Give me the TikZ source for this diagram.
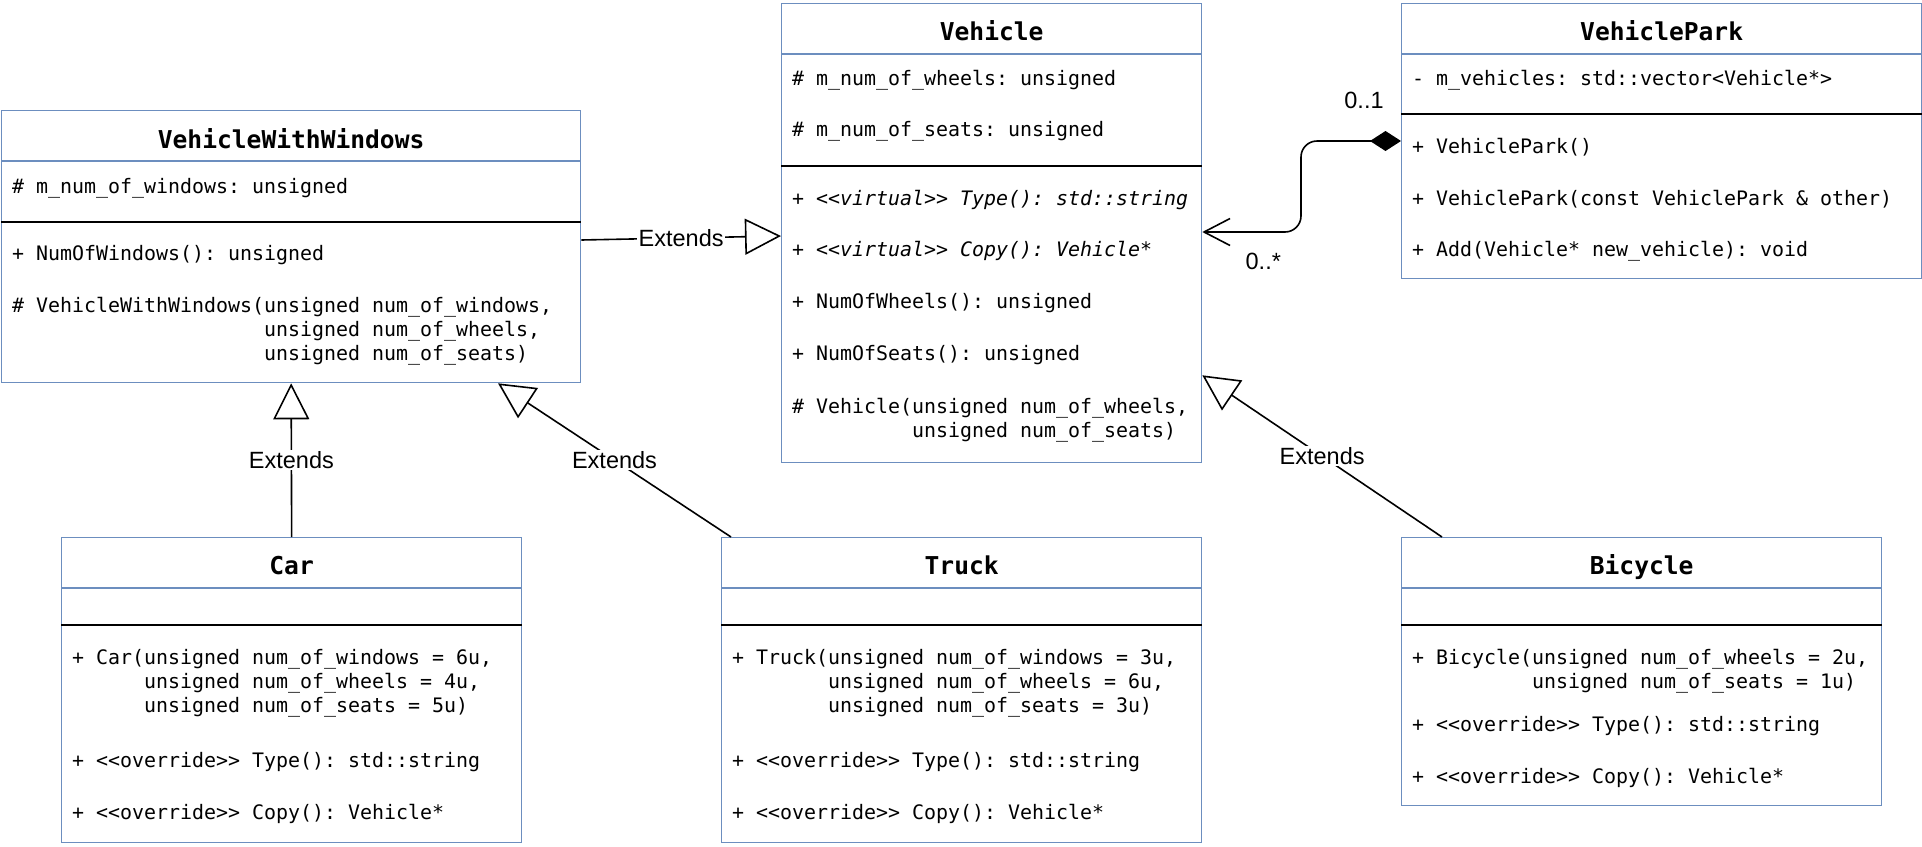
\documentclass[tikz,border=0pt]{standalone}
\usepackage{fontspec}
\setmainfont{Liberation Sans}
\setmonofont{DejaVu Sans Mono}
\usetikzlibrary{arrows.meta,calc}
\definecolor{umlblue}{HTML}{6C8EBF}
\frenchspacing
\newcommand\umlsections[3]{%
  \draw[hdr] ($(#1.north west)+(0,#2)$) -- ($(#1.north east)+(0,#2)$);
  \draw[sepline] ($(#1.north west)+(0,#3)$) -- ($(#1.north east)+(0,#3)$);}
\begin{document}
\begin{tikzpicture}[x=1pt,y=-1pt,
  cls/.style={draw=umlblue, line width=1.3pt, fill=white, anchor=north west, inner sep=0pt},
  hdr/.style={draw=umlblue, line width=1.3pt},
  sepline/.style={draw=black, line width=2pt},
  row/.style={anchor=base west, inner sep=0pt, font=\ttfamily\fontsize{19.93}{24}\selectfont},
  irow/.style={anchor=base west, inner sep=0pt, font=\ttfamily\itshape\fontsize{19.93}{24}\selectfont},
  ttl/.style={anchor=base, inner sep=0pt, font=\ttfamily\bfseries\fontsize{24.6}{29}\selectfont},
  ext/.style={draw=black, line width=1.6pt, -{Triangle[open, length=36pt, width=36pt]}},
  comp/.style={draw=black, line width=1.6pt, rounded corners=16pt,
    {Diamond[length=31pt,width=20pt]}-{Straight Barb[length=26pt,width=27pt]}},
  lbl/.style={fill=white, inner sep=1.5pt, font=\fontsize{23.5}{28}\selectfont},
  mult/.style={inner sep=0pt, font=\fontsize{23.5}{28}\selectfont},
]
\useasboundingbox[fill=white] (0,0) rectangle (1922,846);

% ---------- boxes ----------
\node[cls, minimum width=579pt, minimum height=272pt] (vww) at (1,110) {};
\node[cls, minimum width=420pt, minimum height=459pt] (veh) at (781,3) {};
\node[cls, minimum width=520pt, minimum height=275pt] (vp) at (1401,3) {};
\node[cls, minimum width=460pt, minimum height=305pt] (car) at (61,537) {};
\node[cls, minimum width=480pt, minimum height=305pt] (truck) at (721,537) {};
\node[cls, minimum width=480pt, minimum height=268pt] (bic) at (1401,537) {};

\umlsections{vww}{51}{112}
\umlsections{veh}{51}{163}
\umlsections{vp}{51}{111}
\umlsections{car}{51}{88}
\umlsections{truck}{51}{88}
\umlsections{bic}{51}{88}

% ---------- titles ----------
\node[ttl] (vwwT) at ($(vww.north)+(0,38)$) {VehicleWithWindows};
\node[ttl] (vehT) at ($(veh.north)+(0,37)$) {Vehicle};
\node[ttl] (vpT) at ($(vp.north)+(0,37)$) {VehiclePark};
\node[ttl] (carT) at ($(car.north)+(0,37)$) {Car};
\node[ttl] (truckT) at ($(truck.north)+(0,37)$) {Truck};
\node[ttl] (bicT) at ($(bic.north)+(0,37)$) {Bicycle};

% ---------- VehicleWithWindows ----------
\node[row] (vwwA) at (12,193.3) {\# m\_num\_of\_windows: unsigned};
\node[row] (vwwB) at (12,260.7) {+ NumOfWindows(): unsigned};
\node[row] (vwwC) at (12,312.7) {\# VehicleWithWindows(unsigned num\_of\_windows,};
\node[row] (vwwD) at (12,336.7) {\phantom{\# VehicleWithWindows(}unsigned num\_of\_wheels,};
\node[row] (vwwE) at (12,360.7) {\phantom{\# VehicleWithWindows(}unsigned num\_of\_seats)};

% ---------- Vehicle ----------
\node[row] (vehA) at (792,85) {\# m\_num\_of\_wheels: unsigned};
\node[row] (vehB) at (792,136.5) {\# m\_num\_of\_seats: unsigned};
\node[irow] (vehC) at (792,205) {+ <<virtual>> Type(): std::string};
\node[irow] (vehD) at (792,256.5) {+ <<virtual>> Copy(): Vehicle*};
\node[row] (vehE) at (792,308.5) {+ NumOfWheels(): unsigned};
\node[row] (vehF) at (792,360.5) {+ NumOfSeats(): unsigned};
\node[row] (vehG) at (792,413) {\# Vehicle(unsigned num\_of\_wheels,};
\node[row] (vehH) at (792,437) {\phantom{\# Vehicle(}unsigned num\_of\_seats)};

% ---------- VehiclePark ----------
\node[row] (vpA) at (1412,85.5) {- m\_vehicles: std::vector<Vehicle*>};
\node[row] (vpB) at (1412,153) {+ VehiclePark()};
\node[row] (vpC) at (1412,205) {+ VehiclePark(const VehiclePark \& other)};
\node[row] (vpD) at (1412,256.5) {+ Add(Vehicle* new\_vehicle): void};

% ---------- Car ----------
\node[row] (carA) at (72,664.3) {+ Car(unsigned num\_of\_windows = 6u,};
\node[row] (carB) at (72,688.3) {\phantom{+ Car(}unsigned num\_of\_wheels = 4u,};
\node[row] (carC) at (72,712.3) {\phantom{+ Car(}unsigned num\_of\_seats = 5u)};
\node[row] (carD) at (72,767.3) {+ <<override>> Type(): std::string};
\node[row] (carE) at (72,819.3) {+ <<override>> Copy(): Vehicle*};

% ---------- Truck ----------
\node[row] (trA) at (732,664.3) {+ Truck(unsigned num\_of\_windows = 3u,};
\node[row] (trB) at (732,688.3) {\phantom{+ Truck(}unsigned num\_of\_wheels = 6u,};
\node[row] (trC) at (732,712.3) {\phantom{+ Truck(}unsigned num\_of\_seats = 3u)};
\node[row] (trD) at (732,767.3) {+ <<override>> Type(): std::string};
\node[row] (trE) at (732,819.3) {+ <<override>> Copy(): Vehicle*};

% ---------- Bicycle ----------
\node[row] (biA) at (1412,664.3) {+ Bicycle(unsigned num\_of\_wheels = 2u,};
\node[row] (biB) at (1412,688.3) {\phantom{+ Bicycle(}unsigned num\_of\_seats = 1u)};
\node[row] (biC) at (1412,731.7) {+ <<override>> Type(): std::string};
\node[row] (biD) at (1412,783.3) {+ <<override>> Copy(): Vehicle*};

% ---------- connectors ----------
\draw[ext] ($(vww.north east)+(0,130)$) -- node[lbl] (l1) {Extends} ($(veh.north west)+(0,233)$);
\draw[ext] (car.north) -- node[lbl] (l2) {Extends} (vww.south);
\draw[ext] ($(truck.north west)+(10,0)$) -- node[lbl] (l3) {Extends} ($(vww.south west)+(497,0)$);
\draw[ext] ($(bic.north west)+(41,0)$) -- node[lbl] (l4) {Extends} ($(veh.south east)+(0,-88)$);
\draw[comp] ($(vp.north west)+(0,138)$) -- ++(-100,0) |- ($(veh.north east)+(0,229)$);

\node[mult] (m1) at ($(vp.north west)+(-37,97)$) {0..1};
\node[mult] (m2) at ($(veh.north east)+(61,258)$) {0..*};
\end{tikzpicture}
\end{document}
